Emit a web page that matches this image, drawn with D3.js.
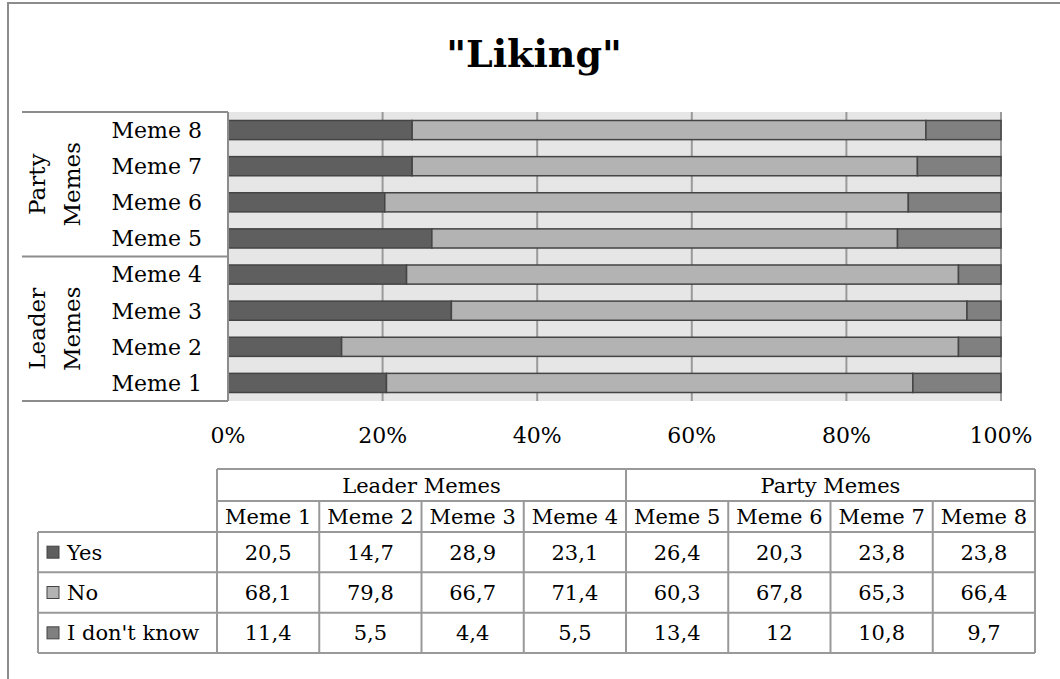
<html lang="en">
<head>
<style>
	body { margin: 0; background: #fff; }
	text { font-family: "DejaVu Serif", serif; fill: #000; }
</style>
</head>
<body>
<svg width="1060" height="679"></svg>
<script src="https://d3js.org/d3.v7.min.js"></script>
<script>
	// data
	var categories = ["Meme 1", "Meme 2", "Meme 3", "Meme 4", "Meme 5", "Meme 6", "Meme 7", "Meme 8"];
	var groups = ["Leader Memes", "Party Memes"];
	var groupOf = ["Leader Memes", "Leader Memes", "Leader Memes", "Leader Memes",
		"Party Memes", "Party Memes", "Party Memes", "Party Memes"];
	var seriesNames = ["Yes", "No", "I don't know"];
	var yes = [20.5, 14.7, 28.9, 23.1, 26.4, 20.3, 23.8, 23.8];
	var no = [68.1, 79.8, 66.7, 71.4, 60.3, 67.8, 65.3, 66.4];
	var dontKnow = [11.4, 5.5, 4.4, 5.5, 13.4, 12, 10.8, 9.7];
	var xTicks = [0, 0.2, 0.4, 0.6, 0.8, 1];
	var colors = ["#5f5f5f", "#b3b3b3", "#808080"];

	var svg = d3.select("svg");

	// outer frame (right/bottom edges run off the picture)
	svg.append("rect")
		.attr("x", 8).attr("y", 3)
		.attr("width", 1070).attr("height", 700)
		.attr("fill", "none").attr("stroke", "#8c8c8c").attr("stroke-width", 2);

	svg.append("text")
		.attr("x", 534).attr("y", 67)
		.attr("text-anchor", "middle")
		.attr("font-size", "38px")
		.attr("font-weight", "bold")
		.text("\"Liking\"");

	var rows = categories.map(function(c, i) {
		return { cat: c, group: groupOf[i], "Yes": yes[i], "No": no[i], "I don't know": dontKnow[i] };
	});

	var pLeft = 228, pRight = 1001, pTop = 112, pBottom = 401;
	var x = d3.scaleLinear().domain([0, 1]).range([pLeft, pRight]);
	var y = d3.scaleBand().domain(categories.slice().reverse()).range([pTop, pBottom])
		.paddingInner(0.47).paddingOuter(0.235);
	var color = d3.scaleOrdinal().domain(seriesNames).range(colors);

	var stacked = d3.stack().keys(seriesNames).offset(d3.stackOffsetExpand)(rows);

	// plot background
	svg.append("rect")
		.attr("x", pLeft).attr("y", pTop)
		.attr("width", pRight - pLeft).attr("height", pBottom - pTop)
		.attr("fill", "#e6e6e6");

	// vertical gridlines
	svg.append("g").selectAll("line")
		.data(xTicks.slice(1))
		.enter().append("line")
		.attr("x1", function(d) { return x(d); })
		.attr("x2", function(d) { return x(d); })
		.attr("y1", pTop).attr("y2", pBottom)
		.attr("stroke", "#9a9a9a").attr("stroke-width", 2);

	// bars
	svg.append("g").selectAll("g")
		.data(stacked)
		.enter().append("g")
		.attr("fill", function(d) { return color(d.key); })
		.selectAll("rect")
		.data(function(d) { return d; })
		.enter().append("rect")
		.attr("x", function(d) { return x(d[0]); })
		.attr("width", function(d) { return x(d[1]) - x(d[0]); })
		.attr("y", function(d) { return y(d.data.cat); })
		.attr("height", y.bandwidth())
		.attr("stroke", "#444")
		.attr("stroke-width", 1.5);

	// x tick labels
	svg.append("g").selectAll("text")
		.data(xTicks)
		.enter().append("text")
		.attr("x", function(d) { return x(d); })
		.attr("y", 443)
		.attr("text-anchor", "middle")
		.attr("font-size", "22px")
		.text(d3.format(".0%"));

	// y axis: category labels, group labels and dividers
	var yAxis = svg.append("g");
	yAxis.append("line")
		.attr("x1", pLeft).attr("x2", pLeft).attr("y1", pTop).attr("y2", pBottom)
		.attr("stroke", "#8c8c8c").attr("stroke-width", 2);
	yAxis.selectAll(".cat")
		.data(categories)
		.enter().append("text")
		.attr("class", "cat")
		.attr("x", 202)
		.attr("y", function(d) { return y(d) + y.bandwidth() / 2; })
		.attr("dy", "0.36em")
		.attr("text-anchor", "end")
		.attr("font-size", "22px")
		.text(function(d) { return d; });

	var groupEdges = groups.map(function(g) {
		var cats = categories.filter(function(c, i) { return groupOf[i] === g; });
		var ys = cats.map(function(c) { return y(c); });
		var step = y.step();
		return { name: g, y0: d3.min(ys) - y.paddingInner() * step / 2, y1: d3.max(ys) + y.bandwidth() + y.paddingInner() * step / 2 };
	});
	var lineYs = [pTop, pBottom, (groupEdges[0].y0 + groupEdges[1].y1) / 2];
	yAxis.selectAll(".div")
		.data(lineYs)
		.enter().append("line")
		.attr("x1", 22).attr("x2", pLeft)
		.attr("y1", function(d) { return d; }).attr("y2", function(d) { return d; })
		.attr("stroke", "#8c8c8c").attr("stroke-width", 2);
	groupEdges.forEach(function(g) {
		var cy = (Math.max(g.y0, pTop) + Math.min(g.y1, pBottom)) / 2;
		var words = g.name.split(" ");
		var t = yAxis.append("text")
			.attr("transform", "translate(56," + cy + ") rotate(-90)")
			.attr("text-anchor", "middle")
			.attr("font-size", "23px");
		words.forEach(function(w, i) {
			t.append("tspan").attr("x", 0).attr("y", i === 0 ? -11 : 24).text(w);
		});
	});

	// data table
	var fmt = function(v) { return String(v).replace(".", ","); };
	var colX = d3.scaleBand().domain(categories).range([217, 1035]);
	var rowY = d3.scaleBand().domain(seriesNames).range([532, 653]);
	var tbl = svg.append("g");
	var lineColor = "#999", lw = 2;
	function hline(x1, x2, yy) {
		tbl.append("line").attr("x1", x1).attr("x2", x2).attr("y1", yy).attr("y2", yy)
			.attr("stroke", lineColor).attr("stroke-width", lw);
	}
	function vline(xx, y1, y2) {
		tbl.append("line").attr("x1", xx).attr("x2", xx).attr("y1", y1).attr("y2", y2)
			.attr("stroke", lineColor).attr("stroke-width", lw);
	}
	var gTop = 469, hTop = 501;
	hline(217, 1035, gTop);
	hline(217, 1035, hTop);
	seriesNames.forEach(function(s) { hline(38, 1035, rowY(s)); });
	hline(38, 1035, 653);
	vline(38, 532, 653);
	categories.forEach(function(c) { vline(colX(c), hTop, 653); });
	vline(1035, gTop, 653);
	groups.forEach(function(g) {
		var cats = categories.filter(function(c, i) { return groupOf[i] === g; });
		var gx0 = colX(cats[0]), gx1 = colX(cats[cats.length - 1]) + colX.bandwidth();
		vline(gx0, gTop, hTop);
		tbl.append("text")
			.attr("x", (gx0 + gx1) / 2).attr("y", (gTop + hTop) / 2).attr("dy", "0.36em")
			.attr("text-anchor", "middle").attr("font-size", "21px")
			.text(g);
	});
	tbl.selectAll(".colh")
		.data(categories)
		.enter().append("text")
		.attr("x", function(d) { return colX(d) + colX.bandwidth() / 2; })
		.attr("y", (hTop + 532) / 2).attr("dy", "0.36em")
		.attr("text-anchor", "middle").attr("font-size", "21px")
		.text(function(d) { return d; });

	var values = { "Yes": yes, "No": no, "I don't know": dontKnow };
	seriesNames.forEach(function(s) {
		var cy = rowY(s) + rowY.bandwidth() / 2;
		tbl.append("rect")
			.attr("x", 47).attr("y", cy - 6)
			.attr("width", 12).attr("height", 12)
			.attr("fill", color(s)).attr("stroke", "#444").attr("stroke-width", 1);
		tbl.append("text")
			.attr("x", 67).attr("y", cy).attr("dy", "0.36em")
			.attr("font-size", "21px")
			.text(s);
		tbl.selectAll(null)
			.data(values[s])
			.enter().append("text")
			.attr("x", function(d, i) { return colX(categories[i]) + colX.bandwidth() / 2; })
			.attr("y", cy).attr("dy", "0.36em")
			.attr("text-anchor", "middle").attr("font-size", "21px")
			.text(fmt);
	});
</script>
</body>
</html>
